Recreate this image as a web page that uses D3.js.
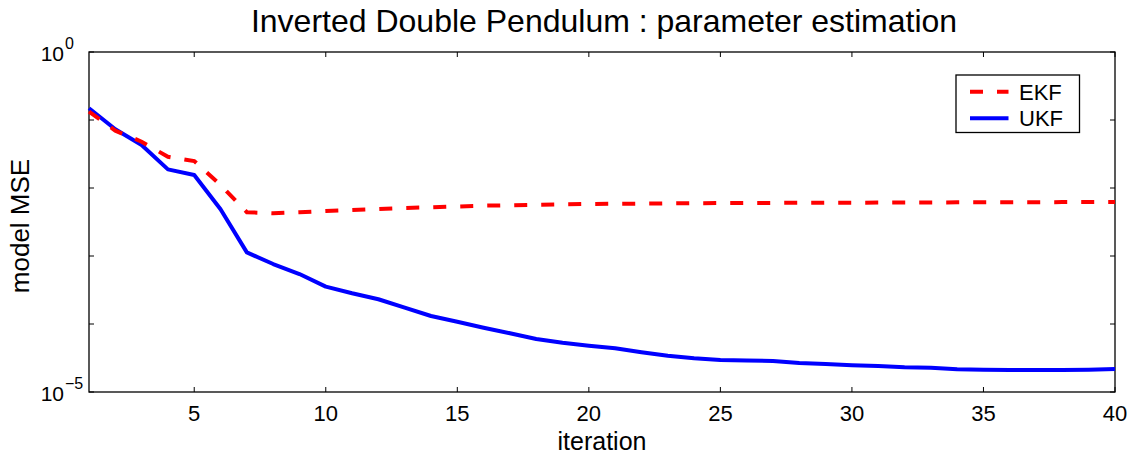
<!DOCTYPE html>
<html><head><meta charset="utf-8">
<script src="https://cdn.jsdelivr.net/npm/d3@7"></script>
<style>
html,body{margin:0;padding:0;background:#fff;}
text{font-family:"Liberation Sans",Arial,sans-serif;fill:#000;}
</style></head>
<body><svg id="c" width="1134" height="455"></svg>
<script>
const iterations = d3.range(1, 41);
const ekfMSE = [0.133,0.0697,0.0480,0.0288,0.0249,0.0111,0.00440,0.00425,0.00440,0.00459,
  0.00474,0.00491,0.00508,0.00520,0.00535,0.00550,0.00558,0.00568,0.00575,0.00582,
  0.00586,0.00588,0.00594,0.00598,0.00600,0.00602,0.00604,0.00606,0.00608,0.00608,
  0.00610,0.00612,0.00613,0.00615,0.00616,0.00617,0.00618,0.00620,0.00621,0.00622];
const ukfMSE = [0.1486,0.0730,0.0429,0.0188,0.0155,0.00486,0.00113,0.000762,0.000543,0.000354,
  0.000283,0.000231,0.000174,0.000131,0.000108,0.0000883,0.0000730,0.0000601,0.0000531,0.0000480,
  0.0000439,0.0000384,0.0000342,0.0000313,0.0000296,0.0000291,0.0000286,0.0000267,0.0000258,0.0000247,
  0.0000241,0.0000231,0.0000227,0.0000216,0.0000213,0.0000211,0.0000211,0.0000211,0.0000213,0.0000218];
const xTicks = [5,10,15,20,25,30,35,40];
const yTicks = [1,1e-1,1e-2,1e-3,1e-4,1e-5];
const yTickLabels = [{v:1,exp:"0"},{v:1e-5,exp:"\u22125"}];
const seriesNames = ["EKF","UKF"];

const svg = d3.select("#c");
const L=89, R=1115, T=52, B=392;
const x = d3.scaleLinear().domain([1,40]).range([L,R]);
const y = d3.scaleLog().domain([1e-5,1]).range([B,T]);

// frame
svg.append("rect").attr("x",L).attr("y",T).attr("width",R-L).attr("height",B-T)
  .attr("fill","none").attr("stroke","#000").attr("stroke-width",1.3);

// ticks
const tl=5;
const gx = svg.append("g");
xTicks.forEach(t=>{
  gx.append("line").attr("x1",x(t)).attr("x2",x(t)).attr("y1",B).attr("y2",B-tl).attr("stroke","#000");
  gx.append("line").attr("x1",x(t)).attr("x2",x(t)).attr("y1",T).attr("y2",T+tl).attr("stroke","#000");
  gx.append("text").attr("x",x(t)).attr("y",B+29).attr("text-anchor","middle").attr("font-size",22).text(t);
});
yTicks.forEach(t=>{
  gx.append("line").attr("x1",L).attr("x2",L+tl).attr("y1",y(t)).attr("y2",y(t)).attr("stroke","#000");
  gx.append("line").attr("x1",R).attr("x2",R-tl).attr("y1",y(t)).attr("y2",y(t)).attr("stroke","#000");
});
yTickLabels.forEach(d=>{
  gx.append("text").attr("x",64).attr("y",y(d.v)+9).attr("text-anchor","end").attr("font-size",21).text("10");
  gx.append("text").attr("x",65).attr("y",y(d.v)-3.5).attr("text-anchor","start").attr("font-size",16).text(d.exp);
});

// lines
const line = d3.line().x((d,i)=>x(iterations[i])).y(d=>y(d));
svg.append("path").datum(ukfMSE).attr("d",line).attr("fill","none")
  .attr("stroke","#0000ff").attr("stroke-width",4).attr("stroke-linejoin","round");
svg.append("path").datum(ekfMSE).attr("d",line).attr("fill","none")
  .attr("stroke","#ff0000").attr("stroke-width",4).attr("stroke-dasharray","13,14");

// labels
svg.append("text").attr("x",(L+R)/2+2).attr("y",32).attr("text-anchor","middle").attr("font-size",32)
  .text("Inverted Double Pendulum : parameter estimation");
svg.append("text").attr("x",(L+R)/2).attr("y",449.5).attr("text-anchor","middle").attr("font-size",25).text("iteration");
svg.append("text").attr("transform",`translate(29,${(T+B)/2+4}) rotate(-90)`).attr("text-anchor","middle")
  .attr("font-size",26).text("model MSE");

// legend
const lg = svg.append("g");
lg.append("rect").attr("x",956).attr("y",75).attr("width",123.5).attr("height",57.5)
  .attr("fill","#fff").attr("stroke","#000").attr("stroke-width",1.3);
const lcol=["#ff0000","#0000ff"], ldash=["13,14",null];
seriesNames.forEach((n,i)=>{
  const ly = 91.7 + i*26.6;
  const ln = lg.append("line").attr("x1",970).attr("x2",1008.5).attr("y1",ly).attr("y2",ly)
    .attr("stroke",lcol[i]).attr("stroke-width",4);
  if(ldash[i]) ln.attr("stroke-dasharray",ldash[i]);
  lg.append("text").attr("x",1019).attr("y",ly+7.8).attr("font-size",22).text(n);
});
</script></body></html>
